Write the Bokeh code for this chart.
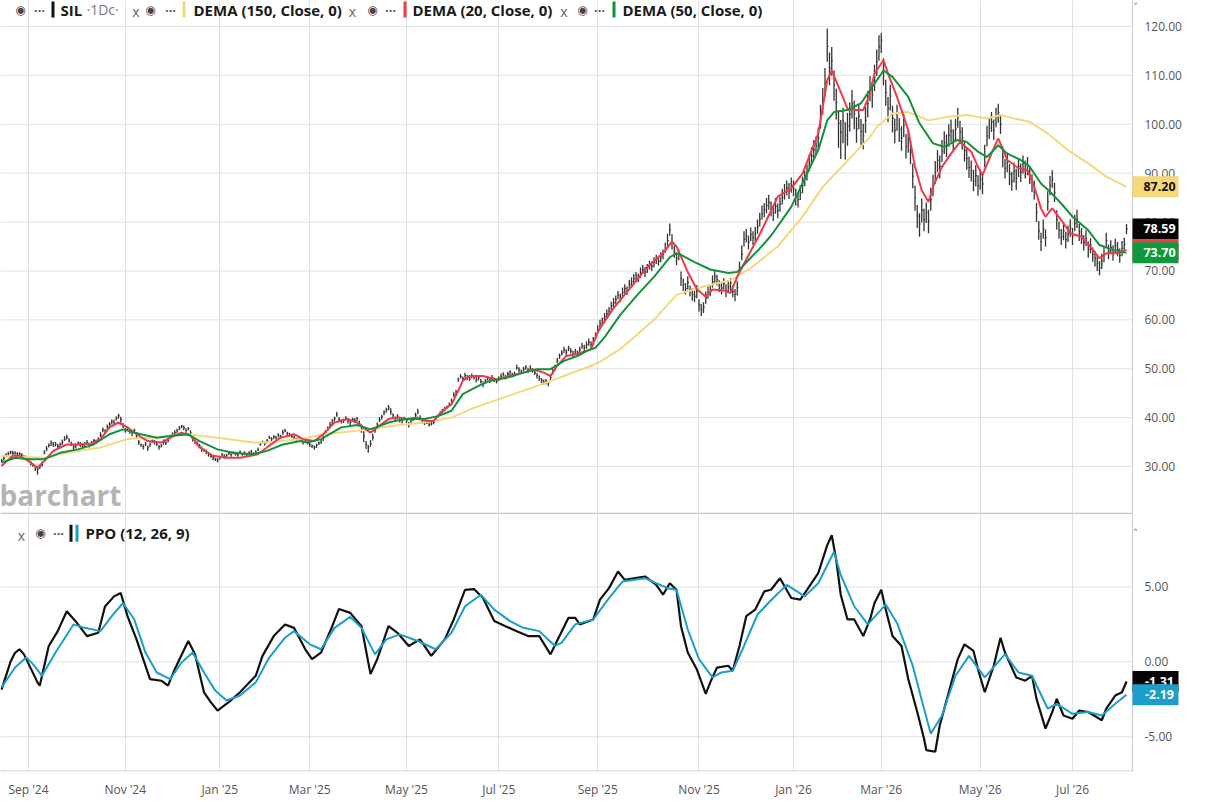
from bokeh.plotting import figure
from bokeh.layouts import column
from bokeh.models import Range1d, FixedTicker, Label
from bokeh.core.properties import value
from bokeh.embed import file_html
from bokeh.resources import INLINE

# ---------------- data ----------------
CLOSE = [
 31.2, 31.6, 32.4, 32.6, 32.9, 32.7, 32.8, 32.5, 32.6, 32.3,
 32.0, 31.8, 31.4, 30.6, 30.2, 29.6, 29.4, 29.9, 30.4, 32.8,
 33.6, 34.3, 34.8, 34.4, 34.6, 34.1, 34.5, 35.0, 35.6, 36.0,
 35.4, 34.6, 34.0, 34.3, 34.8, 34.5, 34.2, 34.6, 34.9, 34.4,
 34.8, 35.3, 35.0, 35.6, 36.4, 37.5, 37.2, 38.0, 38.6, 39.2,
 39.0, 39.8, 40.4, 39.6, 38.4, 37.5, 37.8, 37.2, 36.8, 37.4,
 36.3, 35.0, 34.4, 34.0, 34.6, 33.8, 34.5, 35.2, 35.0, 34.6,
 34.0, 34.3, 35.0, 34.8, 35.4, 36.0, 36.6, 36.9, 37.3, 37.8,
 38.2, 37.9, 37.4, 37.8, 36.9, 35.6, 35.0, 34.8, 34.2, 33.6,
 33.4, 33.0, 32.4, 32.1, 31.8, 31.5, 31.3, 31.8, 32.4, 32.0,
 32.3, 32.7, 32.4, 32.8, 32.6, 32.3, 32.9, 32.5, 32.7, 32.4,
 32.8, 33.0, 32.6, 32.9, 33.4, 34.6, 35.0, 34.7, 35.3, 35.9,
 35.6, 36.1, 35.8, 36.4, 36.2, 36.9, 37.3, 36.8, 36.5, 36.2,
 36.0, 35.6, 35.9, 35.3, 35.0, 35.4, 34.8, 34.5, 34.2, 33.9,
 34.3, 34.8, 35.1, 35.8, 36.9, 37.8, 38.5, 39.2, 39.8, 40.6,
 39.6, 39.2, 39.5, 39.9, 39.3, 39.0, 39.6, 39.4, 39.8, 38.8,
 37.8, 36.2, 34.5, 33.8, 34.6, 36.0, 37.4, 38.5, 39.6, 40.2,
 41.0, 41.6, 42.0, 41.2, 40.4, 39.8, 40.2, 39.6, 39.3, 39.8,
 39.4, 38.6, 39.3, 39.8, 40.5, 41.2, 40.0, 39.3, 38.9, 39.2,
 38.6, 38.9, 39.0, 39.8, 40.4, 40.9, 41.3, 41.8, 42.2, 42.6,
 43.4, 44.6, 45.2, 47.8, 48.4, 48.0, 48.6, 48.2, 47.9, 48.5,
 48.3, 47.8, 48.1, 47.4, 46.8, 47.5, 48.0, 47.6, 48.2, 47.8,
 47.4, 48.0, 48.4, 48.8, 48.3, 48.9, 49.3, 48.7, 49.0, 50.2,
 49.8, 49.4, 49.9, 50.3, 49.7, 50.1, 49.6, 49.2, 48.6, 48.0,
 47.6, 47.2, 47.5, 47.0, 48.2, 49.4, 50.3, 51.6, 52.6, 53.2,
 53.8, 53.4, 54.2, 53.6, 53.0, 53.5, 53.2, 53.9, 54.6, 54.3,
 54.9, 55.4, 55.0, 55.8, 56.6, 58.0, 59.2, 59.8, 60.6, 61.2,
 61.8, 62.8, 63.5, 64.2, 65.0, 64.6, 65.6, 66.4, 66.0, 67.2,
 67.8, 68.4, 69.0, 68.6, 69.6, 70.3, 69.8, 70.6, 71.2, 71.0,
 71.8, 72.4, 72.0, 72.9, 73.4, 74.6, 76.2, 78.4, 76.0, 74.0,
 72.6, 73.4, 68.5, 67.2, 66.4, 67.6, 66.0, 65.2, 64.8, 65.8,
 63.0, 62.2, 62.6, 64.5, 65.6, 66.2, 67.8, 68.9, 68.2, 67.0,
 66.5, 67.4, 66.0, 66.8, 67.5, 65.8, 65.2, 66.6, 70.5, 73.4,
 76.5, 77.2, 76.0, 77.4, 76.8, 77.6, 79.0, 80.6, 81.8, 82.5,
 83.4, 84.0, 82.8, 82.0, 83.2, 82.4, 83.6, 85.0, 86.2, 87.0,
 86.4, 87.6, 86.8, 85.2, 84.6, 86.0, 87.5, 88.8, 90.2, 92.0,
 93.5, 94.8, 95.6, 97.2, 101.5, 104.6, 108.5, 116.0, 111.5, 113.0,
 108.0, 104.5, 100.2, 98.4, 100.6, 97.8, 99.6, 102.0, 104.2, 102.2,
 99.0, 101.6, 98.5, 97.6, 100.8, 104.2, 107.4, 106.0, 109.6, 112.8,
 115.8, 117.2, 111.0, 106.5, 103.2, 105.8, 101.2, 98.8, 101.5, 99.0,
 97.2, 99.8, 95.5, 96.8, 94.2, 89.4, 85.0, 81.2, 79.6, 82.4,
 80.5, 82.0, 80.2, 84.6, 87.5, 90.2, 92.6, 91.4, 94.5, 96.2,
 95.6, 97.8, 98.6, 96.8, 99.0, 101.5, 98.4, 97.2, 94.6, 93.0,
 91.2, 90.6, 88.4, 89.5, 87.4, 88.8, 87.8, 93.5, 97.6, 99.2,
 100.5, 98.8, 101.6, 102.4, 100.0, 93.4, 91.0, 92.2, 89.8, 88.4,
 90.4, 89.0, 91.4, 90.2, 92.0, 90.8, 91.6, 89.6, 88.0, 86.6,
 82.0, 78.2, 76.0, 78.6, 76.8, 84.2, 87.5, 88.8, 86.0, 80.5,
 78.4, 77.0, 78.2, 76.4, 77.6, 78.8, 77.2, 79.8, 80.6, 78.0,
 77.2, 75.8, 76.6, 74.4, 75.2, 73.4, 72.6, 71.6, 70.6, 72.0,
 73.4, 76.2, 74.0, 74.8, 73.6, 75.2, 74.4, 73.2, 74.6, 75.4,
 78.59]

# distance from close up to the bar's high
BAR_UP = [
 0.4,0.5,0.3,0.4,0.3,0.5,0.3,0.4,0.3,0.4, 0.3,0.4,0.3,0.5,0.4,0.3,0.5,0.4,0.6,0.5,
 0.6,0.4,0.5,0.6,0.4,0.5,0.4,0.5,0.6,0.5, 0.4,0.5,0.6,0.4,0.3,0.5,0.4,0.4,0.5,0.3,
 0.4,0.3,0.5,0.4,0.6,0.5,0.4,0.6,0.5,0.4, 0.6,0.5,0.4,0.6,0.5,0.4,0.3,0.5,0.4,0.3,
 0.5,0.4,0.3,0.5,0.4,0.5,0.4,0.3,0.4,0.5, 0.4,0.3,0.5,0.4,0.3,0.5,0.4,0.5,0.4,0.5,
 0.3,0.5,0.4,0.3,0.5,0.6,0.4,0.3,0.4,0.5, 0.3,0.4,0.5,0.3,0.4,0.3,0.4,0.3,0.4,0.5,
 0.3,0.4,0.3,0.3,0.4,0.3,0.4,0.3,0.4,0.3, 0.3,0.4,0.3,0.4,0.5,0.4,0.3,0.4,0.3,0.4,
 0.4,0.3,0.5,0.4,0.3,0.6,0.4,0.3,0.4,0.3, 0.4,0.3,0.4,0.5,0.3,0.4,0.5,0.4,0.3,0.4,
 0.4,0.3,0.5,0.6,0.5,0.4,0.6,0.5,0.4,0.6, 0.5,0.4,0.3,0.4,0.6,0.5,0.4,0.5,0.3,0.6,
 0.8,1.0,0.7,0.6,0.8,0.7,0.6,0.5,0.5,0.4, 0.5,0.4,0.6,0.7,0.5,0.4,0.5,0.4,0.5,0.4,
 0.4,0.5,0.4,0.3,0.5,0.6,0.5,0.4,0.3,0.4, 0.4,0.3,0.4,0.5,0.3,0.4,0.5,0.4,0.3,0.5,
 0.5,0.6,0.5,0.4,0.5,0.4,0.6,0.5,0.4,0.5, 0.4,0.5,0.4,0.5,0.6,0.4,0.5,0.4,0.5,0.4,
 0.5,0.4,0.6,0.5,0.4,0.5,0.4,0.5,0.4,0.6, 0.5,0.4,0.5,0.4,0.5,0.6,0.5,0.4,0.5,0.6,
 0.5,0.6,0.4,0.5,0.7,0.6,0.5,0.6,0.5,0.6, 0.7,0.6,0.5,0.6,0.7,0.6,0.5,0.6,0.7,0.6,
 0.7,0.8,0.6,0.7,0.8,0.9,0.8,0.7,0.8,0.9, 0.8,0.9,1.0,0.8,0.9,0.8,1.0,0.9,0.8,1.0,
 0.9,1.0,0.8,0.9,1.1,0.9,1.0,0.8,0.9,1.0, 1.0,0.9,1.1,0.9,1.0,1.2,1.4,1.3,1.5,1.2,
 1.2,1.0,1.4,1.2,1.1,1.3,1.0,1.2,1.1,1.3, 1.2,1.1,1.0,1.3,1.2,1.1,1.3,1.2,1.0,1.1,
 1.2,1.1,1.3,1.2,1.0,1.2,1.1,1.3,1.4,1.8, 1.6,1.4,1.2,1.5,1.3,1.4,1.5,1.3,1.6,1.4,
 1.5,1.6,1.4,1.5,1.7,1.4,1.6,1.8,1.6,1.5, 1.6,1.5,1.7,1.6,1.5,1.6,1.8,1.7,1.6,1.8,
 1.8,2.0,1.9,2.1,2.5,2.8,3.0,3.6,3.2,2.8, 3.0,2.8,2.6,2.5,2.8,2.6,2.7,2.5,2.8,2.6,
 2.5,2.4,2.6,2.5,2.8,2.6,2.5,2.7,2.6,2.5, 2.4,1.4,2.5,2.6,2.4,2.3,2.6,2.4,2.5,2.3,
 2.4,2.2,2.5,2.3,2.4,2.6,2.5,2.3,2.2,2.4, 2.2,2.0,2.3,2.4,2.2,2.3,2.1,2.2,2.3,2.4,
 2.3,2.2,2.4,2.2,2.1,1.9,2.3,2.2,2.1,2.3, 2.2,2.0,2.3,2.1,2.2,2.0,2.1,2.3,2.1,2.2,
 2.0,2.2,1.8,1.8,2.0,2.1,1.9,2.0,2.1,1.9, 1.8,1.9,1.7,1.8,1.6,1.8,1.7,1.9,1.8,1.9,
 1.9,2.0,1.8,1.9,1.7,2.1,1.9,1.8,2.0,1.9, 1.7,1.6,1.8,1.6,1.7,1.8,1.6,1.7,1.9,1.6,
 1.6,1.5,1.7,1.6,1.5,1.4,1.5,1.6,1.4,1.5, 1.5,1.6,1.4,1.5,1.6,1.4,1.5,1.4,1.5,1.4,
 1.0]

# distance from close down to the bar's low
BAR_DN = [
 0.4,0.3,0.5,0.3,0.4,0.3,0.4,0.5,0.3,0.4, 0.4,0.3,0.5,0.4,0.3,0.5,1.1,0.4,0.4,0.3,
 0.5,0.4,0.6,0.4,0.5,0.4,0.5,0.6,0.4,0.5, 0.5,0.4,0.5,0.6,0.4,0.5,0.4,0.6,0.4,0.5,
 0.4,0.5,0.4,0.5,0.4,0.5,0.6,0.4,0.5,0.6, 0.5,0.4,0.6,0.7,0.5,0.6,0.4,0.5,0.6,0.4,
 0.5,0.6,0.4,0.5,0.4,0.6,0.5,0.4,0.5,0.4, 0.6,0.4,0.5,0.4,0.5,0.4,0.5,0.4,0.5,0.4,
 0.4,0.5,0.6,0.4,0.6,0.5,0.4,0.5,0.4,0.6, 0.4,0.5,0.4,0.3,0.5,0.4,0.5,0.4,0.3,0.4,
 0.4,0.3,0.4,0.3,0.4,0.3,0.4,0.3,0.4,0.3, 0.3,0.4,0.3,0.4,0.3,0.4,0.3,0.4,0.4,0.3,
 0.4,0.5,0.3,0.4,0.5,0.4,0.3,0.5,0.4,0.3, 0.4,0.5,0.4,0.3,0.5,0.4,0.3,0.5,0.4,0.5,
 0.5,0.4,0.5,0.6,0.4,0.5,0.4,0.6,0.5,0.4, 0.5,0.4,0.6,0.4,0.5,0.6,0.4,0.5,0.6,0.5,
 0.9,1.2,0.9,1.0,0.6,0.7,0.5,0.6,0.5,0.6, 0.5,0.6,0.5,0.6,0.5,0.6,0.5,0.6,0.5,0.4,
 0.5,0.6,0.4,0.5,0.4,0.5,0.6,0.5,0.4,0.5, 0.4,0.5,0.4,0.3,0.4,0.5,0.4,0.5,0.4,0.3,
 0.5,0.4,0.6,0.5,0.4,0.5,0.6,0.5,0.4,0.5, 0.5,0.6,0.5,0.4,0.6,0.5,0.4,0.5,0.6,0.5,
 0.4,0.5,0.6,0.4,0.5,0.4,0.6,0.5,0.6,0.4, 0.6,0.5,0.4,0.5,0.6,0.5,0.4,0.5,0.6,0.5,
 0.6,0.5,0.7,0.6,0.5,0.6,0.7,0.5,0.6,0.5, 0.6,0.7,0.6,0.5,0.7,0.6,0.7,0.6,0.5,0.7,
 0.8,0.7,0.9,0.8,0.7,0.8,0.9,0.8,0.7,0.8, 0.9,0.8,0.9,1.0,0.8,1.0,0.9,1.0,0.9,0.8,
 1.0,0.9,1.1,0.9,1.0,0.9,1.1,1.0,0.9,1.0, 1.1,1.0,0.9,1.1,1.0,0.9,1.1,1.2,1.6,1.3,
 1.4,1.2,1.6,1.3,1.2,1.4,1.2,1.3,1.2,1.4, 1.3,1.4,1.2,1.2,1.3,1.4,1.2,1.3,1.2,1.3,
 1.3,1.2,1.4,1.3,1.5,1.2,1.4,1.6,1.3,1.2, 1.5,1.4,1.6,1.3,1.5,1.6,1.4,1.5,1.3,1.5,
 1.6,1.5,1.6,1.8,1.5,1.6,1.5,1.4,1.6,1.5, 1.7,1.6,1.5,1.8,1.6,1.5,1.6,1.5,1.7,1.6,
 1.8,1.9,2.0,2.2,2.4,2.6,2.8,3.2,3.5,3.0, 3.2,3.5,5.0,5.5,4.5,5.0,4.0,3.5,3.0,3.2,
 2.8,2.6,2.8,2.7,2.6,2.8,2.7,2.6,2.8,2.9, 2.8,2.6,3.0,2.7,2.8,3.0,2.9,2.7,2.8,2.6,
 2.6,2.4,2.5,2.6,2.4,2.5,2.7,2.4,2.6,2.5, 2.4,2.2,2.5,2.3,2.2,2.4,2.3,2.5,2.2,2.3,
 2.3,2.4,2.2,2.3,2.4,2.2,2.3,2.4,2.2,2.3, 2.2,2.3,2.1,2.2,2.0,2.2,2.1,2.3,2.1,2.2,
 2.1,2.0,2.2,2.1,2.0,2.2,2.1,2.0,2.2,2.0, 2.3,2.5,2.2,2.0,2.1,1.9,2.0,1.8,1.9,2.0,
 2.0,1.8,1.9,2.0,1.8,1.9,2.0,1.8,1.9,2.0, 1.8,1.7,1.9,1.8,1.7,1.8,1.9,1.7,1.8,1.9,
 1.7,1.6,1.5,1.7,1.6,1.5,1.7,1.6,1.5,1.6, 1.6,1.5,1.6,1.4,1.5,1.6,1.4,1.5,1.6,1.4,
 1.1]

# indicator lines: (bar index, value) pairs
DEMA20_IDX = [0,5,8,12,16,19,23,29,34,40,44,48,52,56,60,65,71,75,80,84,88,94,100,106,114,118,124,130,134,139,
              143,148,154,158,162,164,167,172,176,180,185,189,192,196,200,203,205,208,214,220,226,232,236,241,244,
              247,251,256,262,265,272,280,287,294,298,300,305,309,313,316,321,324,327,332,337,345,351,356,363,367,
              369,372,376,380,383,386,388,392,394,398,403,406,409,412,414,418,422,426,431,434,436,440,443,447,452,
              456,459,462,464,467,471,475,480,484,488,491,496,500]
DEMA20 = [30.1,32.2,32.2,31.1,29.8,31.1,33.2,34.5,34.5,34.7,35.6,38.0,39.0,38.0,36.6,35.2,34.9,35.9,36.9,36.3,
          33.9,32.2,31.8,31.8,32.5,33.9,35.9,36.6,35.6,35.2,36.6,39.0,39.7,39.0,37.6,36.9,38.0,39.7,40.1,39.7,
          40.0,39.3,39.3,41.4,42.7,45.5,47.5,48.5,48.5,47.8,48.5,49.2,49.9,49.2,48.5,50.6,52.6,53.0,54.0,57.5,
          62.4,66.8,70.8,73.6,76.0,75.0,69.8,66.3,64.7,66.2,66.0,65.5,68.8,73.2,77.5,85.2,86.9,89.9,98.1,109.0,
          111.0,107.7,103.2,102.9,102.9,106.3,110.4,113.1,110.4,105.6,98.8,91.3,86.5,84.1,87.2,91.3,94.0,96.4,94.4,91.3,
          89.6,94.0,97.1,92.7,91.0,90.6,87.2,82.8,81.1,82.8,80.4,77.7,77.0,74.9,72.6,73.6,73.6,74.3]

DEMA50_IDX = [0,6,12,19,26,34,41,48,54,62,69,76,83,88,96,103,112,118,125,133,136,142,151,158,164,172,179,188,194,200,
              205,212,217,225,232,238,244,250,256,260,264,268,275,283,290,297,300,302,308,315,323,327,333,337,342,
              351,356,363,367,370,376,382,386,392,396,403,408,414,419,425,429,434,438,443,447,453,457,462,466,471,
              476,483,488,494,500]
DEMA50 = [30.8,31.8,31.5,31.5,32.8,33.5,34.5,36.6,37.6,36.6,35.9,36.3,36.6,35.2,33.5,32.8,32.5,33.2,34.5,35.2,
          34.9,35.6,38.0,38.5,37.6,39.0,39.7,39.7,40.3,41.4,44.8,46.5,47.5,48.2,49.2,49.9,49.9,51.6,52.6,53.6,
          54.3,56.4,61.0,65.3,68.8,72.8,73.6,73.3,71.8,70.3,69.6,69.8,72.7,74.6,77.2,
          83.1,87.9,94.7,100.8,102.5,102.9,104.3,107.0,111.0,109.7,105.6,100.2,96.1,95.4,96.8,96.4,94.4,93.3,95.7,
          94.0,92.7,91.3,87.9,86.2,83.8,81.1,78.3,75.3,74.3,73.7]

DEMA150_IDX = [0,7,19,29,44,56,66,83,96,112,118,133,143,158,173,188,200,210,225,240,250,262,266,275,290,300,312,324,
               333,345,356,365,372,379,386,389,396,403,412,420,429,438,444,450,457,465,474,483,491,500]
DEMA150 = [32.2,32.0,31.8,32.8,33.9,35.6,35.9,36.6,35.9,34.9,34.9,35.6,36.6,37.3,38.3,39.0,40.0,42.0,44.4,46.8,
           48.5,50.6,51.4,54.0,60.0,65.1,66.8,68.1,70.6,75.0,81.1,87.2,90.6,94.0,97.4,99.5,102.2,102.5,100.8,101.5,
           101.9,101.2,101.9,101.2,100.5,98.1,94.7,92.0,89.3,87.2]

PPO_IDX = [0,4,6,8,10,16,17,21,25,29,33,38,43,46,50,53,56,60,66,71,74,77,83,86,90,93,96,101,106,113,116,121,126,130,
           135,138,142,147,150,155,160,164,167,172,176,181,186,191,197,201,206,210,214,219,224,229,234,239,244,248,
           252,255,257,263,266,270,274,277,281,286,291,294,297,300,302,305,309,313,315,318,323,325,328,331,335,339,
           342,346,351,355,358,363,367,369,371,373,376,379,381,383,386,388,391,393,396,400,403,407,410,411,415,417,
           421,425,428,432,434,437,441,444,446,451,455,458,460,464,467,469,472,476,479,483,489,491,495,498,500]
PPO = [-1.85,0.0,0.6,0.84,0.5,-1.37,-1.59,1.06,2.05,3.38,2.7,1.72,1.94,3.7,4.37,4.6,3.05,1.5,-1.15,-1.26,-1.59,
       -0.49,1.39,0.5,-2.03,-2.69,-3.25,-2.69,-2.03,-0.93,0.4,1.72,2.49,2.27,0.84,0.18,0.62,2.38,3.53,3.27,2.38,
       -0.82,0.18,2.38,1.94,1.06,1.5,0.4,1.5,2.83,4.81,4.86,4.26,2.72,2.38,2.05,1.72,1.72,0.5,1.72,2.94,2.94,2.5,
       2.83,4.15,4.92,6.03,5.47,5.58,5.7,5.14,4.48,5.25,4.81,2.38,0.62,-0.49,-2.14,-1.37,-0.38,-0.26,-0.6,1.06,
       3.05,3.49,4.7,4.81,5.58,4.26,4.15,4.81,5.92,7.79,8.45,6.8,4.48,2.83,2.83,2.27,1.72,2.83,3.93,4.81,3.49,
       1.72,1.06,-1.15,-3.35,-5.12,-5.89,-6.0,-4.24,-2.03,0.18,1.17,0.73,-0.49,-2.03,-0.26,1.61,0.62,-1.04,-1.26,
       -0.93,-2.47,-4.46,-3.35,-2.47,-3.58,-3.8,-3.25,-3.35,-3.9,-3.13,-2.25,-2.03,-1.31]

SIG_IDX = [0,6,11,14,18,24,32,37,44,49,54,59,64,69,75,80,85,90,95,100,106,113,119,126,130,137,142,148,155,160,166,
           171,177,185,193,200,206,213,219,226,232,239,246,249,252,255,263,270,276,286,296,300,305,310,316,320,325,
           330,336,343,349,357,363,370,373,379,385,393,398,405,410,413,418,424,430,437,446,452,458,465,469,476,483,
           489,495,500]
SIG = [-1.7,-0.38,0.29,-0.15,-0.93,0.62,2.49,2.27,2.05,3.05,3.93,2.83,0.62,-0.71,-1.15,-0.04,0.62,-0.71,-1.92,
       -2.58,-2.25,-1.37,0.29,1.61,2.05,1.17,0.84,2.27,3.0,2.27,0.5,1.5,1.83,1.39,0.84,1.94,3.7,4.48,3.49,2.72,
       2.27,2.05,1.06,1.28,1.9,2.5,2.83,4.26,5.36,5.58,4.92,4.81,2.16,0.18,-1.04,-0.71,-0.6,1.06,3.16,4.26,5.14,
       4.37,5.25,7.35,5.8,3.71,2.5,3.82,2.6,-0.26,-3.13,-4.79,-3.58,-0.93,0.4,-1.04,0.51,-0.71,-0.93,-3.13,-2.8,
       -3.47,-3.35,-3.58,-2.8,-2.19]

PRICE_TICKS = [30, 40, 50, 60, 70, 80, 90, 100, 110, 120]
PPO_TICKS = [-5, 0, 5]
TICK_IDX = [12, 55, 97, 137, 180, 221, 265, 310, 352, 391, 435, 476]
TICK_LABELS = ["Sep '24", "Nov '24", "Jan '25", "Mar '25", "May '25", "Jul '25",
               "Sep '25", "Nov '25", "Jan '26", "Mar '26", "May '26", "Jul '26"]

# ---------------- styling / layout ----------------
FONT = "Open Sans"
W = 1200            # canvas width (frame spans it; value column drawn inside)
PLOT_W = 1132       # width of the chart area left of the value column
H1 = 512
FH2 = 261
AXB = 27
H2 = FH2 + AXB
PXU = 2.25          # pixels per bar
X0 = -0.444
XA = X0 + PLOT_W / PXU      # x of the value-axis line
XE = X0 + W / PXU
PY0, PY1 = 20.59, 125.32
QY0, QY1 = -7.32, 9.97

YEL = "#f5d87a"
RED = "#ee3a4a"
GRN = "#14913b"
BLUE = "#1d9dca"
BARC = "#333333"
GRIDC = "#e1e1e1"
AXC = "#cfcfcf"


def xs(px):
    return X0 + px / PXU


def y1(py):
    return PY1 - py * (PY1 - PY0) / H1


def y2(py):
    return QY1 - py * (QY1 - QY0) / FH2


def lab(p, x, y, text, size="15px", color="#1a1a1a", style="bold", align="left",
        base="middle", font=FONT):
    L = Label(x=x, y=y, text=text, text_font=font, text_font_size=size, text_color=color,
              text_font_style=style, text_align=align, text_baseline=base)
    p.add_layout(L)
    return L


def base_fig(height, yr, y0, y1_, ticks, xaxis, min_bottom):
    p = figure(width=W, height=height, x_range=Range1d(X0, XE), y_range=Range1d(*yr),
               x_axis_location=("below" if xaxis else None), y_axis_location=None,
               toolbar_location=None, output_backend="svg", min_border_left=0,
               min_border_right=0, min_border_top=0, min_border_bottom=min_bottom, title=None)
    p.outline_line_color = None
    p.background_fill_color = "white"
    p.border_fill_color = "white"
    p.xgrid.ticker = FixedTicker(ticks=TICK_IDX)
    p.xgrid.grid_line_color = GRIDC
    p.ygrid.visible = False
    # horizontal grid lines, only across the chart area
    p.segment(x0=[X0] * len(ticks), y0=ticks, x1=[XA] * len(ticks), y1=ticks,
              line_color=GRIDC, line_width=1)
    # value axis line
    p.segment(x0=[XA], y0=[y0], x1=[XA], y1=[y1_], line_color=AXC, line_width=1.2)
    # value axis labels
    p.text(x=[xs(PLOT_W + 12)] * len(ticks), y=ticks, text=[f"{t:.2f}" for t in ticks],
           text_font=value(FONT), text_font_size="12px", text_color="#555555",
           text_baseline="middle", text_align="left")
    return p


def valbox(p, yval, bg, fg):
    p.rect(x=[xs(PLOT_W + 23)], y=[yval], width=46, height=21, width_units="screen",
           height_units="screen", fill_color=bg, line_color=None)
    p.text(x=[xs(PLOT_W + 27)], y=[yval], text=[f"{yval:.2f}"], text_font=value(FONT),
           text_font_size="12.5px", text_font_style="bold", text_color=fg,
           text_baseline="middle", text_align="center")


# ---------------- price panel ----------------
p1 = base_fig(H1, (PY0, PY1), PY0, PY1, PRICE_TICKS, False, 0)

idx = list(range(len(CLOSE)))
highs = [c + u for c, u in zip(CLOSE, BAR_UP)]
lows = [c - d for c, d in zip(CLOSE, BAR_DN)]
p1.segment(x0=idx, y0=lows, x1=idx, y1=highs, line_color=BARC, line_width=1.3)
p1.segment(x0=idx, y0=CLOSE, x1=[i + 0.5 for i in idx], y1=CLOSE, line_color=BARC, line_width=1.2)

p1.line(DEMA150_IDX, DEMA150, line_color=YEL, line_width=2)
p1.line(DEMA20_IDX, DEMA20, line_color=RED, line_width=2)
p1.line(DEMA50_IDX, DEMA50, line_color=GRN, line_width=2)

# legend row
ly = y1(9)
for ex in (20, 150, 372, 582):
    lab(p1, xs(ex), ly, "\u25c9", size="12px", color="#444444", style="normal", align="center",
        font="DejaVu Sans")
for dx in (39, 170, 390, 599):
    lab(p1, xs(dx), ly, "\u00b7\u00b7\u00b7", size="13px", color="#555555", style="bold", align="center")
for cx in (135.5, 352, 563.5):
    lab(p1, xs(cx), y1(11), "x", size="14px", color="#666666", style="normal", align="center")
p1.rect(x=[xs(52.5), xs(183.5), xs(404.5), xs(613.5)], y=[ly] * 4, width=3, height=16,
        width_units="screen", height_units="screen",
        fill_color=["#111111", YEL, RED, GRN], line_color=None)
lab(p1, xs(60), ly, "SIL")
lab(p1, xs(86), ly, "\u00b71Dc\u00b7", size="14px", color="#777777", style="normal")
lab(p1, xs(193), ly, "DEMA (150, Close, 0)")
lab(p1, xs(412), ly, "DEMA (20, Close, 0)")
lab(p1, xs(622), ly, "DEMA (50, Close, 0)")
lab(p1, xs(PLOT_W + 3), y1(7), "\u02c5", size="11px", color="#888888", style="normal", align="center",
    font="DejaVu Sans")
lab(p1, xs(-1), y1(494), "barchart", size="28px", color="#b4b4b4", style="bold")

valbox(p1, DEMA150[-1], YEL, "#111111")
valbox(p1, CLOSE[-1], "#050505", "white")
valbox(p1, DEMA20[-1], RED, "white")
valbox(p1, DEMA50[-1], "#10983c", "white")

# ---------------- PPO panel ----------------
p2 = base_fig(H2, (QY0, QY1), QY0, QY1, PPO_TICKS, True, AXB)
p2.x_range = p1.x_range
xa = p2.xaxis[0]
xa.ticker = FixedTicker(ticks=TICK_IDX)
xa.major_label_overrides = {t: s for t, s in zip(TICK_IDX, TICK_LABELS)}
xa.major_tick_line_color = None
xa.minor_tick_line_color = None
xa.major_tick_out = 0
xa.major_tick_in = 0
xa.minor_tick_out = 0
xa.minor_tick_in = 0
xa.axis_line_color = None
xa.major_label_text_font = FONT
xa.major_label_text_font_size = "12px"
xa.major_label_text_color = "#555555"
xa.major_label_standoff = 9

ppu = (QY1 - QY0) / FH2
# panel separator and bottom line
p2.segment(x0=[X0, X0], y0=[QY1 - 0.8 * ppu, QY0 + 0.6 * ppu], x1=[XA, XA],
           y1=[QY1 - 0.8 * ppu, QY0 + 0.6 * ppu], line_color=["#c4c4c4", "#d6d6d6"], line_width=1.5)

p2.line(PPO_IDX, PPO, line_color="#111111", line_width=2.2)
p2.line(SIG_IDX, SIG, line_color=BLUE, line_width=2)

qy = y2(21)
lab(p2, xs(21), y2(23), "x", size="14px", color="#666666", style="normal", align="center")
lab(p2, xs(40), qy, "\u25c9", size="12px", color="#444444", style="normal", align="center", font="DejaVu Sans")
lab(p2, xs(58), qy, "\u00b7\u00b7\u00b7", size="13px", color="#555555", style="bold", align="center")
p2.rect(x=[xs(70.5), xs(76.5)], y=[qy, qy], width=3, height=17, width_units="screen",
        height_units="screen", fill_color=["#111111", BLUE], line_color=None)
lab(p2, xs(85), qy, "PPO (12, 26, 9)")
lab(p2, xs(PLOT_W + 3), y2(21), "\u02c4", size="11px", color="#888888", style="normal", align="center",
    font="DejaVu Sans")

valbox(p2, PPO[-1], "#050505", "white")
valbox(p2, SIG[-1], BLUE, "white")

layout = column(p1, p2)
open("out.html", "w").write(file_html(layout, INLINE))
